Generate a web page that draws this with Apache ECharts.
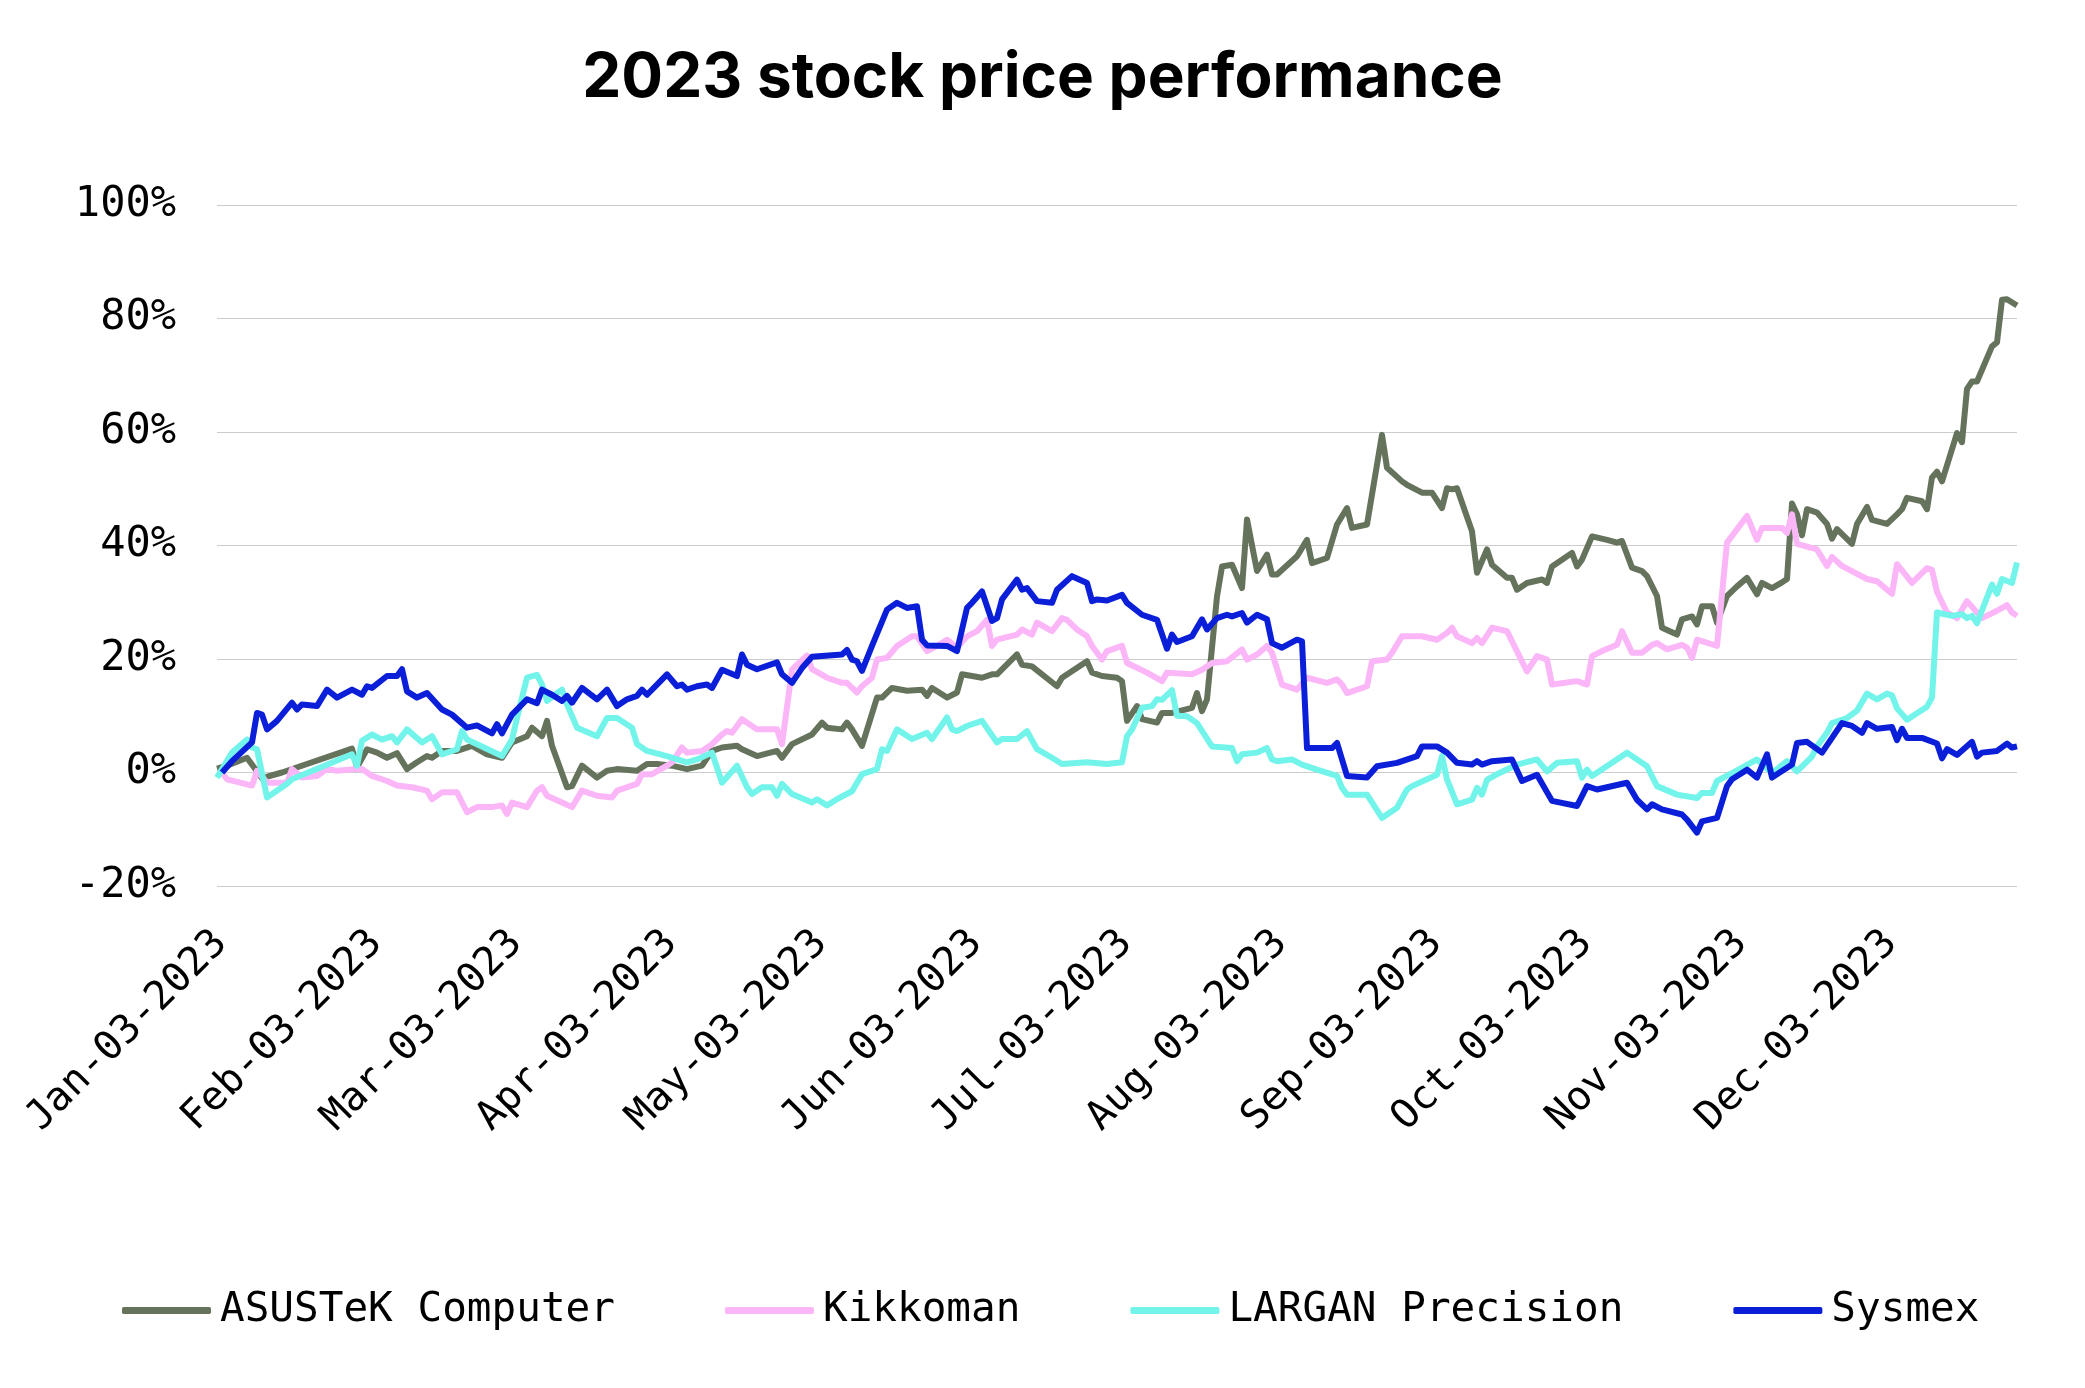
<!DOCTYPE html>
<html><head><meta charset="utf-8">
<script src="https://cdn.jsdelivr.net/npm/echarts@6/dist/echarts.min.js"></script>
<style>html,body{margin:0;padding:0;background:#fff}#chart{width:2085px;height:1388px}</style>
</head><body><div id="chart"></div>
<script>
const titleText = '2023 stock price performance';
const seriesNames = ['ASUSTeK Computer', 'Kikkoman', 'LARGAN Precision', 'Sysmex'];
const seriesColors = ['#66735c', '#fbb6f8', '#72f4ea', '#0b1fd8'];
const tickLabels = ['Jan-03-2023','Feb-03-2023','Mar-03-2023','Apr-03-2023','May-03-2023','Jun-03-2023',
  'Jul-03-2023','Aug-03-2023','Sep-03-2023','Oct-03-2023','Nov-03-2023','Dec-03-2023'];
const yTicks = [-20, 0, 20, 40, 60, 80, 100];

// [MM-DD, % change since start of 2023]
const asustek = [['01-03',0.7],['01-05',1.2],['01-09',2.6],['01-12',-1.0],['01-16',0],['01-30',4.2],['01-31',0.9],
['02-02',4.1],['02-04',3.5],['02-06',2.6],['02-08',3.4],['02-10',0.6],['02-12',1.8],['02-14',2.9],['02-15',2.6],['02-17',3.8],
['02-20',3.8],['02-23',4.7],['02-26',3.2],['03-01',2.6],['03-03',5.3],['03-06',6.4],['03-07',7.9],['03-09',6.4],['03-10',9.1],
['03-11',4.7],['03-14',-2.6],['03-15',-2.4],['03-17',1.2],['03-20',-0.9],['03-22',0.3],['03-24',0.6],['03-28',0.3],['03-30',1.5],
['04-01',1.5],['04-04',1.2],['04-07',0.6],['04-10',1.2],['04-12',3.8],['04-14',4.4],['04-17',4.7],['04-18',4.1],['04-21',2.9],
['04-25',3.8],['04-26',2.6],['04-28',5.0],['05-02',6.7],['05-04',8.8],['05-05',7.9],['05-08',7.6],['05-09',8.8],['05-10',7.6],
['05-12',4.7],['05-15',13.2],['05-16',13.2],['05-18',14.9],['05-21',14.4],['05-24',14.6],['05-25',13.5],['05-26',14.9],
['05-29',13.2],['05-31',14.1],['06-01',17.3],['06-05',16.7],['06-07',17.3],['06-08',17.3],['06-12',20.8],['06-13',19.0],
['06-15',18.7],['06-20',15.2],['06-21',16.7],['06-26',19.6],['06-27',17.6],['06-29',17.0],['07-02',16.7],['07-03',16.1],
['07-04',9.1],['07-06',11.7],['07-07',9.4],['07-10',8.8],['07-11',10.5],['07-13',10.5],['07-17',11.4],['07-18',14.0],
['07-19',10.8],['07-20',12.9],['07-21',22],['07-22',31],['07-23',36.3],['07-25',36.6],['07-27',32.5],['07-28',44.6],
['07-30',35.5],['08-01',38.4],['08-02',34.9],['08-03',34.9],['08-07',38.1],['08-09',41.0],['08-10',36.9],['08-13',37.8],
['08-15',43.7],['08-17',46.6],['08-18',43.1],['08-21',43.7],['08-24',59.5],['08-25',53.7],['08-28',51.3],['08-29',50.7],
['09-01',49.3],['09-03',49.3],['09-05',46.6],['09-06',50.1],['09-07',49.9],['09-08',50.1],['09-11',42.5],['09-12',35.2],
['09-14',39.3],['09-15',36.6],['09-18',34.3],['09-19',34.3],['09-20',32.2],['09-22',33.4],['09-25',34.0],['09-26',33.4],
['09-27',36.3],['09-29',37.5],['10-01',38.7],['10-02',36.3],['10-03',37.5],['10-05',41.6],['10-08',41.0],['10-10',40.5],
['10-11',40.8],['10-13',36.1],['10-15',35.5],['10-16',34.6],['10-18',31.1],['10-19',25.5],['10-22',24.3],['10-23',27.0],
['10-25',27.5],['10-26',26.1],['10-27',29.3],['10-29',29.3],['10-30',26.4],['11-01',31.1],['11-03',32.8],['11-05',34.3],
['11-07',31.4],['11-08',33.4],['11-10',32.5],['11-12',33.5],['11-13',34.1],['11-14',47.4],['11-15',45.5],['11-16',41.8],
['11-17',46.4],['11-19',45.8],['11-21',43.8],['11-22',41.2],['11-23',42.9],['11-26',40.3],['11-27',43.8],['11-29',46.8],
['11-30',44.5],['12-03',43.8],['12-05',45.5],['12-06',46.4],['12-07',48.4],['12-10',47.8],['12-11',46.4],['12-12',52.0],
['12-13',53.0],['12-14',51.3],['12-17',59.8],['12-18',58.2],['12-19',67.6],['12-20',68.9],['12-21',68.9],['12-24',75.1],
['12-25',75.8],['12-26',83.3],['12-27',83.4],['12-29',82.3]];

const kikkoman = [['01-04',0],['01-05',-1.2],['01-10',-2.3],['01-11',0.3],['01-13',-1.8],['01-17',-1.8],['01-18',0.6],
['01-20',-0.9],['01-23',-0.6],['01-25',0.6],['01-27',0.3],['01-31',0.6],['02-01',0.6],['02-03',-0.6],['02-06',-1.5],
['02-08',-2.3],['02-11',-2.6],['02-14',-3.2],['02-15',-4.7],['02-17',-3.5],['02-20',-3.5],['02-22',-7.0],['02-24',-6.1],
['02-27',-6.1],['03-01',-5.8],['03-02',-7.3],['03-03',-5.3],['03-06',-6.1],['03-08',-3.2],['03-09',-2.6],['03-10',-4.1],
['03-13',-5.3],['03-15',-6.1],['03-17',-3.2],['03-20',-4.1],['03-23',-4.4],['03-24',-3.2],['03-28',-2.0],['03-29',-0.3],
['03-31',-0.3],['04-03',1.2],['04-04',1.8],['04-06',4.4],['04-07',3.5],['04-10',3.8],['04-12',5.0],['04-14',6.7],
['04-15',7.3],['04-16',7.0],['04-18',9.4],['04-21',7.6],['04-25',7.6],['04-26',5.0],['04-28',18.1],['04-29',19.0],
['05-01',20.6],['05-02',18.2],['05-05',16.7],['05-08',15.8],['05-09',15.8],['05-11',14.1],['05-12',15.2],['05-14',16.7],
['05-15',19.9],['05-17',20.2],['05-19',22.3],['05-22',24.0],['05-23',24.0],['05-25',21.4],['05-27',22.3],['05-29',23.4],
['05-31',22.0],['06-02',24.0],['06-04',24.9],['06-06',26.9],['06-07',22.3],['06-08',23.4],['06-12',24.3],['06-13',25.2],
['06-15',24.3],['06-16',26.4],['06-19',24.9],['06-21',27.2],['06-22',26.9],['06-24',25.2],['06-26',24.0],['06-27',22.3],
['06-29',19.9],['06-30',21.4],['07-03',22.3],['07-04',19.3],['07-08',17.6],['07-11',16.1],['07-12',17.6],['07-17',17.3],
['07-19',18.1],['07-21',19.3],['07-24',19.6],['07-27',21.7],['07-28',19.9],['07-30',20.8],['08-01',22.3],['08-02',21.1],
['08-04',15.5],['08-07',14.6],['08-09',16.7],['08-13',15.8],['08-15',16.4],['08-16',15.5],['08-17',14.0],['08-21',15.2],
['08-22',19.6],['08-25',19.9],['08-26',21.1],['08-28',24.0],['09-01',24.0],['09-04',23.4],['09-06',24.6],['09-07',25.5],
['09-08',24.0],['09-11',22.8],['09-12',23.7],['09-13',22.8],['09-15',25.5],['09-18',24.9],['09-22',17.8],['09-24',20.5],
['09-26',19.9],['09-27',15.5],['10-02',16.1],['10-04',15.5],['10-05',20.5],['10-07',21.4],['10-10',22.5],['10-11',24.9],
['10-13',21.1],['10-15',21.1],['10-17',22.5],['10-18',22.8],['10-20',21.7],['10-23',22.5],['10-24',22.0],['10-25',20.2],
['10-26',23.4],['10-30',22.3],['11-01',40.5],['11-05',45.2],['11-07',41.0],['11-08',43.1],['11-12',43.1],['11-13',42.2],
['11-14',45.5],['11-15',40.3],['11-19',39.3],['11-21',36.4],['11-22',38.0],['11-24',36.4],['11-27',35.0],['11-29',34.1],
['12-01',33.7],['12-04',31.5],['12-05',36.7],['12-08',33.4],['12-11',36.0],['12-12',35.7],['12-13',31.8],['12-15',28.2],
['12-17',27.2],['12-19',30.2],['12-20',29.2],['12-22',27.2],['12-25',28.5],['12-27',29.5],['12-28',28.2],['12-29',27.6]];

const largan = [['01-03',-0.9],['01-06',3.5],['01-09',5.8],['01-10',4.4],['01-11',4.1],['01-13',-4.4],['01-17',-2.0],
['01-18',-1.2],['01-30',3.2],['01-31',1.2],['02-01',5.6],['02-03',6.7],['02-05',5.8],['02-07',6.4],['02-08',5.3],
['02-10',7.6],['02-13',5.3],['02-15',6.4],['02-17',3.2],['02-20',4.1],['02-21',7.3],['02-22',5.8],['03-01',2.9],
['03-03',5.8],['03-04',9.6],['03-06',16.7],['03-08',17.2],['03-09',15.5],['03-10',12.6],['03-12',14.0],['03-13',14.6],
['03-14',12.0],['03-16',7.9],['03-20',6.4],['03-22',9.6],['03-24',9.6],['03-27',7.9],['03-28',5.0],['03-30',3.8],
['04-03',2.9],['04-07',1.8],['04-09',2.3],['04-12',3.5],['04-14',-1.8],['04-17',1.2],['04-19',-2.6],['04-20',-3.8],
['04-22',-2.6],['04-24',-2.6],['04-25',-4.1],['04-26',-2.0],['04-28',-3.8],['05-02',-5.3],['05-03',-4.7],['05-05',-5.8],
['05-07',-4.7],['05-10',-3.3],['05-12',-0.3],['05-15',0.6],['05-16',4.1],['05-17',3.8],['05-19',7.6],['05-22',5.9],
['05-25',7.0],['05-26',5.9],['05-29',9.7],['05-30',7.6],['05-31',7.3],['06-02',8.2],['06-05',9.1],['06-08',5.3],
['06-09',5.9],['06-12',5.9],['06-14',7.3],['06-16',4.1],['06-19',2.6],['06-21',1.5],['06-26',1.8],['06-30',1.5],
['07-03',1.8],['07-04',6.4],['07-05',7.6],['07-07',11.4],['07-09',11.7],['07-10',12.9],['07-11',12.8],['07-13',14.5],
['07-14',10.0],['07-16',9.9],['07-18',8.7],['07-21',4.6],['07-25',4.3],['07-26',2.0],['07-27',3.2],['07-30',3.5],
['08-01',4.3],['08-02',2.3],['08-03',2.0],['08-06',2.3],['08-08',1.4],['08-11',0.5],['08-15',-0.6],['08-16',-2.7],
['08-17',-3.9],['08-21',-3.9],['08-24',-8.0],['08-25',-7.4],['08-27',-6.2],['08-29',-3.0],['08-30',-2.4],['09-02',-1.2],
['09-04',-0.4],['09-05',2.9],['09-06',-1.2],['09-08',-5.6],['09-11',-4.8],['09-12',-2.7],['09-13',-3.9],['09-14',-1.3],
['09-16',-0.3],['09-20',1.4],['09-24',2.3],['09-26',0.2],['09-28',1.7],['10-02',2.0],['10-03',-0.9],['10-04',0.5],
['10-05',-0.6],['10-12',3.5],['10-16',1.1],['10-18',-2.4],['10-22',-3.9],['10-26',-4.5],['10-27',-3.6],['10-29',-3.6],
['10-30',-1.5],['11-02',-0.1],['11-07',2.3],['11-10',-0.1],['11-13',2.0],['11-15',0.2],['11-18',2.8],['11-19',4.6],
['11-21',7.0],['11-22',8.7],['11-25',9.6],['11-27',10.9],['11-29',13.9],['12-01',12.9],['12-03',13.9],['12-04',13.6],
['12-05',11.3],['12-07',9.3],['12-11',11.6],['12-12',13.2],['12-13',28.2],['12-16',27.6],['12-18',27.9],['12-19',27.2],
['12-20',27.6],['12-21',26.3],['12-24',33.1],['12-25',31.5],['12-26',34.1],['12-28',33.4],['12-29',37.0]];

const sysmex = [['01-04',0],['01-06',2.0],['01-10',5.3],['01-11',10.5],['01-12',10.2],['01-13',7.6],['01-15',9.1],
['01-18',12.3],['01-19',11.1],['01-20',12.0],['01-23',11.7],['01-25',14.6],['01-27',13.2],['01-30',14.6],['02-01',13.7],
['02-02',15.2],['02-03',14.9],['02-06',17.0],['02-08',17.0],['02-09',18.2],['02-10',14.3],['02-12',13.2],['02-14',14.0],
['02-17',11.1],['02-19',10.2],['02-22',7.9],['02-24',8.3],['02-27',6.9],['02-28',8.5],['03-01',6.9],['03-03',10.2],
['03-06',12.9],['03-08',12.2],['03-09',14.6],['03-11',13.7],['03-13',12.6],['03-14',13.5],['03-15',12.3],['03-17',14.9],
['03-20',12.9],['03-22',14.6],['03-24',11.7],['03-26',12.9],['03-28',13.5],['03-29',14.6],['03-30',13.7],['04-01',15.5],
['04-03',17.3],['04-05',15.2],['04-06',15.5],['04-07',14.6],['04-09',15.2],['04-11',15.5],['04-12',14.9],['04-14',18.1],
['04-17',17.0],['04-18',20.8],['04-19',19.0],['04-21',18.2],['04-25',19.4],['04-26',17.3],['04-28',15.8],['04-30',18.4],
['05-02',20.4],['05-08',20.8],['05-09',21.6],['05-10',19.9],['05-11',19.6],['05-12',17.9],['05-14',22.3],['05-17',28.7],
['05-19',29.9],['05-21',29.0],['05-23',29.3],['05-24',23.4],['05-25',22.4],['05-29',22.3],['05-31',21.4],['06-02',29.0],
['06-03',29.9],['06-05',31.9],['06-07',26.7],['06-08',27.2],['06-09',30.5],['06-12',34.0],['06-13',32.2],['06-14',32.5],
['06-16',30.2],['06-19',29.9],['06-20',32.2],['06-23',34.6],['06-26',33.4],['06-27',30.2],['06-28',30.5],['06-30',30.3],
['07-03',31.3],['07-04',29.9],['07-07',27.8],['07-10',26.9],['07-12',21.8],['07-13',24.3],['07-14',23.0],['07-17',24.0],
['07-19',27.0],['07-20',25.2],['07-22',27.2],['07-24',27.8],['07-25',27.5],['07-27',28.1],['07-28',26.4],['07-30',27.8],
['08-01',27.0],['08-02',22.8],['08-04',22.0],['08-07',23.4],['08-08',23.1],['08-09',4.3],['08-14',4.3],['08-15',5.2],
['08-17',-0.6],['08-21',-0.9],['08-23',1.1],['08-27',1.7],['08-31',2.9],['09-01',4.6],['09-04',4.6],['09-06',3.5],
['09-08',1.7],['09-11',1.4],['09-12',2.0],['09-13',1.4],['09-15',2.0],['09-19',2.3],['09-21',-1.5],['09-24',-0.4],
['09-27',-5.0],['10-02',-5.9],['10-04',-2.4],['10-06',-3.0],['10-12',-1.8],['10-14',-4.8],['10-16',-6.5],['10-17',-5.6],
['10-19',-6.5],['10-23',-7.4],['10-24',-8.3],['10-26',-10.6],['10-27',-8.6],['10-30',-8.0],['11-01',-2.4],['11-02',-1.2],
['11-05',0.5],['11-07',-0.9],['11-09',3.2],['11-10',-0.9],['11-14',1.4],['11-15',5.2],['11-17',5.4],['11-20',3.5],
['11-22',6.1],['11-24',8.7],['11-26',8.2],['11-28',7.0],['11-29',8.7],['12-01',7.7],['12-04',8.0],['12-05',5.7],
['12-06',7.7],['12-07',6.1],['12-10',6.1],['12-13',5.1],['12-14',2.5],['12-15',4.1],['12-17',3.1],['12-20',5.4],
['12-21',2.8],['12-22',3.5],['12-25',3.8],['12-27',5.1],['12-28',4.4],['12-29',4.6]];

const seriesData = [asustek, kikkoman, largan, sysmex];

// one category per calendar day, Jan 3 .. Dec 29, 2023
const monthNames = ['Jan','Feb','Mar','Apr','May','Jun','Jul','Aug','Sep','Oct','Nov','Dec'];
const pad = n => (n < 10 ? '0' : '') + n;
const categories = [];
const keyIndex = {};
for (let t = Date.UTC(2023, 0, 3); t <= Date.UTC(2023, 11, 29); t += 86400000) {
  const d = new Date(t);
  const m = d.getUTCMonth(), dd = d.getUTCDate();
  keyIndex[pad(m + 1) + '-' + pad(dd)] = categories.length;
  categories.push(monthNames[m] + '-' + pad(dd) + '-2023');
}
const toPoints = arr => arr.map(p => [keyIndex[p[0]], p[1]]);

const mono = 'DejaVu Sans Mono';
const chart = echarts.init(document.getElementById('chart'), null, { renderer: 'canvas' });
chart.setOption({
  backgroundColor: '#ffffff',
  animation: false,
  title: {
    text: titleText, left: 'center', top: 42,
    textStyle: { fontFamily: 'Inter', fontWeight: 'bold', fontSize: 62, color: '#000' }
  },
  legend: {
    data: seriesNames, left: 117, top: 1285, icon: 'roundRect',
    itemWidth: 89, itemHeight: 7, itemGap: 110,
    textStyle: { fontFamily: mono, fontSize: 41, color: '#000', padding: [0, 0, 0, 4] }
  },
  grid: { left: 217, right: 68, top: 205, bottom: 502, containLabel: false },
  xAxis: {
    type: 'category', data: categories, boundaryGap: false,
    axisLine: { show: false }, axisTick: { show: false }, splitLine: { show: false },
    axisLabel: {
      interval: (i, v) => tickLabels.includes(v),
      rotate: 45, align: 'right', verticalAlign: 'top', margin: 27, padding: [0, 14, 0, 0],
      fontFamily: mono, fontSize: 40, color: '#000'
    }
  },
  yAxis: {
    type: 'value', min: yTicks[0], max: yTicks[yTicks.length - 1], interval: 20,
    axisLine: { show: false }, axisTick: { show: false },
    splitLine: { lineStyle: { color: '#cccccc', width: 1 } },
    axisLabel: { formatter: '{value}%', fontFamily: mono, fontSize: 42, color: '#000', margin: 41 }
  },
  series: seriesNames.map((name, i) => ({
    name, type: 'line', data: toPoints(seriesData[i]), showSymbol: false, symbol: 'none',
    connectNulls: true,
    lineStyle: { color: seriesColors[i], width: 6, join: 'round' },
    itemStyle: { color: seriesColors[i] }
  }))
});
</script></body></html>
